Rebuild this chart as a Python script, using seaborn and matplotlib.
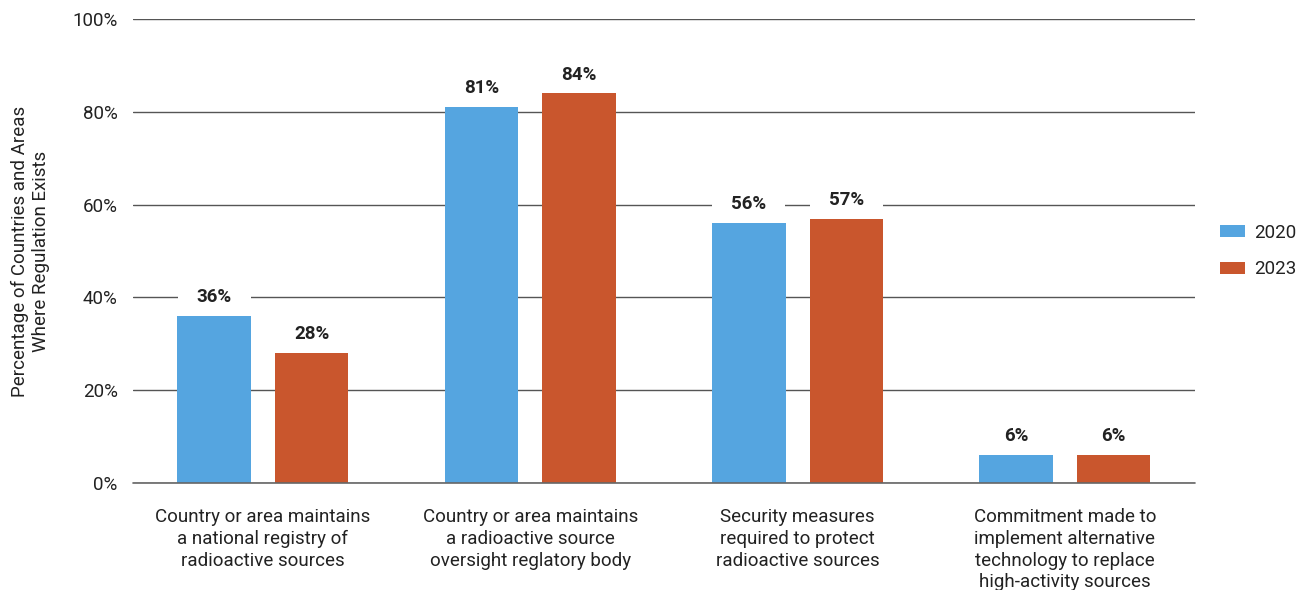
import matplotlib
matplotlib.use("Agg")
import matplotlib.pyplot as plt
import seaborn as sns
import pandas as pd
from matplotlib.path import Path
from matplotlib.ticker import PercentFormatter

categories = [
    "Country or area maintains\na national registry of\nradioactive sources",
    "Country or area maintains\na radioactive source\noversight reglatory body",
    "Security measures\nrequired to protect\nradioactive sources",
    "Commitment made to\nimplement alternative\ntechnology to replace\nhigh-activity sources",
]
years = ["2020", "2023"]
values_2020 = [36, 81, 56, 6]
values_2023 = [28, 84, 57, 6]

df = pd.DataFrame({
    "category": categories * 2,
    "year": [years[0]] * 4 + [years[1]] * 4,
    "value": values_2020 + values_2023,
})

sns.set_theme(style="white")
plt.rcParams["font.family"] = ["Roboto", "DejaVu Sans"]

fig = plt.figure(figsize=(13.04, 5.9), dpi=100)
ax = fig.add_axes([133 / 1304, 1 - 483 / 590, (1195 - 133) / 1304, (483 - 19) / 590])

palette = {"2020": "#55A5E0", "2023": "#C9562D"}
sns.barplot(data=df, x="category", y="value", hue="year", palette=palette,
            width=0.73, gap=0.247, ax=ax, zorder=2, saturation=1,
            linewidth=0, edgecolor="none")

ax.set_ylim(0, 100)
ax.set_xlim(-0.486, 3.4865)
ax.set_yticks([0, 20, 40, 60, 80, 100])
ax.yaxis.set_major_formatter(PercentFormatter(decimals=0))
ax.grid(axis="y", color="#555555", linewidth=1, zorder=0)
ax.set_axisbelow(True)
ax.axhline(0, color="#666666", linewidth=1.2, zorder=3, clip_on=False)
for s in ax.spines.values():
    s.set_visible(False)
ax.tick_params(axis="y", length=0, pad=11, labelsize=13.5, labelcolor="#222222")
ax.tick_params(axis="x", length=0, pad=18, labelsize=13.5, labelcolor="#222222")
for lbl in ax.get_xticklabels():
    lbl.set_linespacing(1.27)
ax.set_xlabel("")
ax.set_ylabel("Percentage of Countries and Areas\nWhere Regulation Exists",
              fontsize=13.5, color="#222222", labelpad=16)


def wide_box(x0, y0, width, height, mutation_size, half_w=36.5, pad_y=3):
    """White backing box as wide as a bar, only slightly taller than the text."""
    cx = x0 + width / 2
    x1, x2 = cx - half_w, cx + half_w
    y1, y2 = y0 - pad_y, y0 + height + pad_y
    return Path([(x1, y1), (x2, y1), (x2, y2), (x1, y2), (x1, y1)], closed=True)


for container in ax.containers:
    ax.bar_label(container, fmt="%d%%", padding=7, fontsize=13.5, fontweight="bold",
                 color="#222222",
                 bbox=dict(boxstyle=wide_box, fc="white", ec="none"))

leg = ax.legend(loc="center left", bbox_to_anchor=(1220 / 1304, 0.5 * (1 - 19 / 590 + 1 - 483 / 590)),
                bbox_transform=fig.transFigure, frameon=False, borderpad=0, borderaxespad=0,
                fontsize=13.5, handlelength=1.35, handleheight=0.65,
                labelspacing=1.0, handletextpad=0.45, title=None)
for t in leg.get_texts():
    t.set_color("#222222")

fig.savefig("out.png", dpi=100)
